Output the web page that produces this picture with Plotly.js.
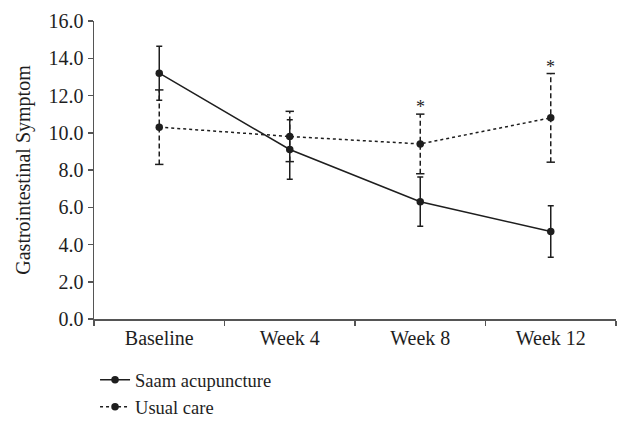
<!DOCTYPE html>
<html>
<head>
<meta charset="utf-8">
<script src="https://cdn.plot.ly/plotly-3.0.1.min.js"></script>
<style>html,body{margin:0;padding:0;background:#fff;}#chart{width:619px;height:421px;}</style>
</head>
<body>
<div id="chart"></div>
<script>
// Data
var categories = ["Baseline", "Week 4", "Week 8", "Week 12"];
var saamMean = [13.2, 9.1, 6.3, 4.7];
var saamErr = [1.45, 1.6, 1.32, 1.38];
var usualMean = [10.3, 9.8, 9.4, 10.8];
var usualErr = [2.0, 1.35, 1.6, 2.38];
var significant = [false, false, true, true];
var yTicks = [0, 2, 4, 6, 8, 10, 12, 14, 16];

var ink = "#1e1e1e";
var axisColor = "#555555";
var fontFam = "'Liberation Serif', 'DejaVu Serif', serif";

// Dashed error bars for usual care built from the data
var ueX = [], ueY = [], capX = [], capY = [];
categories.forEach(function (c, i) {
  ueX.push(c, c, null);
  ueY.push(usualMean[i] - usualErr[i], usualMean[i] + usualErr[i], null);
  capX.push(c, c);
  capY.push(usualMean[i] - usualErr[i], usualMean[i] + usualErr[i]);
});

var traces = [
  {
    x: ueX, y: ueY, type: "scatter", mode: "lines",
    line: {color: ink, width: 1.5, dash: "5px,3px"},
    showlegend: false, hoverinfo: "skip"
  },
  {
    x: capX, y: capY, type: "scatter", mode: "markers",
    marker: {symbol: "line-ew", size: 6, line: {color: ink, width: 1.5}},
    showlegend: false, hoverinfo: "skip"
  },
  {
    x: categories, y: usualMean, type: "scatter", mode: "lines+markers",
    name: "Usual care",
    line: {color: ink, width: 1.5, dash: "dot"},
    marker: {color: ink, size: 7.5}
  },
  {
    x: categories, y: saamMean, type: "scatter", mode: "lines+markers",
    name: "Saam acupuncture",
    line: {color: ink, width: 1.5},
    marker: {color: ink, size: 7.5},
    error_y: {type: "data", array: saamErr, visible: true, color: ink, thickness: 1.5, width: 3}
  }
];

var annotations = [];
categories.forEach(function (c, i) {
  if (significant[i]) {
    annotations.push({
      x: c, y: usualMean[i] + usualErr[i], xref: "x", yref: "y",
      text: "*", showarrow: false, yanchor: "bottom", yshift: -5,
      font: {family: fontFam, size: 18, color: ink}
    });
  }
});

var layout = {
  width: 619, height: 421,
  margin: {l: 94, r: 3, t: 21, b: 102, autoexpand: false},
  paper_bgcolor: "#fff", plot_bgcolor: "#fff",
  font: {family: fontFam, size: 20, color: ink},
  showlegend: true,
  legend: {
    x: 0.002, xanchor: "left", y: -0.36, yanchor: "bottom",
    traceorder: "reversed",
    font: {family: fontFam, size: 18.5, color: ink},
    bgcolor: "rgba(0,0,0,0)"
  },
  xaxis: {
    type: "category", categoryorder: "array", categoryarray: categories,
    range: [-0.5, 3.5],
    showline: true, linecolor: axisColor, linewidth: 1.5,
    ticks: "outside", tickson: "boundaries", ticklen: 5, tickcolor: axisColor, tickwidth: 1.5,
    showgrid: false, zeroline: false,
    tickfont: {family: fontFam, size: 20, color: ink}
  },
  yaxis: {
    range: [0, 16], tickvals: yTicks, tickformat: ".1f",
    showline: true, linecolor: axisColor, linewidth: 1.5,
    ticks: "outside", ticklen: 5, tickcolor: axisColor, tickwidth: 1.5,
    showgrid: false, zeroline: false,
    tickfont: {family: fontFam, size: 20, color: ink},
    title: {text: "Gastrointestinal Symptom", font: {family: fontFam, size: 20, color: ink}, standoff: 12}
  },
  annotations: annotations
};

Plotly.newPlot("chart", traces, layout, {staticPlot: true, displayModeBar: false});
</script>
</body>
</html>
